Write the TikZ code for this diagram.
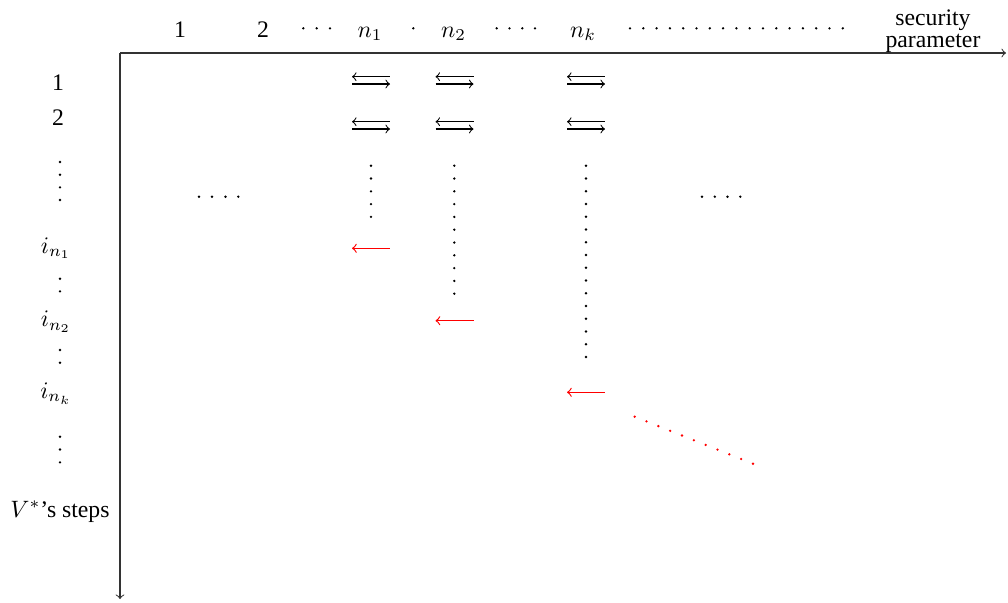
\documentclass[tikz,border=0pt]{standalone}
\usepackage{fontspec}
\setmainfont{Liberation Serif}
\begin{document}
\begin{tikzpicture}[x=0.4216pt,y=-0.4216pt,
  lbl/.style={anchor=base,inner sep=0pt,font=\fontsize{10}{12}\selectfont},
  axis/.style={->,line width=0.45pt,black!80},
  harr/.style={line width=0.45pt},
  redarr/.style={line width=0.5pt,red,<-},
  dotb/.style={fill=black},
  dotr/.style={fill=red}]
\useasboundingbox (0,0) rectangle (1008,602);
% axes
\coordinate (O) at (120,53);
\coordinate (xe) at (1006,53);
\coordinate (ye) at (120,599);
\draw[axis] (O) -- (xe);
\draw[axis] (O) -- (ye);
% top labels
\node[lbl] (t1) at (180,37) {1};
\node[lbl] (t2) at (263,37) {2};
\node[lbl] (tn1) at (370,37) {$n_1$};
\node[lbl] (tn2) at (453.5,37) {$n_2$};
\node[lbl] (tnk) at (583,37) {$n_k$};
\node[lbl] (sp1) at (933,25) {security};
\node[lbl] (sp2) at (933,47) {parameter};
\foreach \x in {303.3,316.7,330,413.3,496.7,509.5,522.3,535}
  \fill[dotb] (\x,28.3) circle[radius=0.55pt];
\foreach \i in {0,...,16}
  \fill[dotb] ({630+\i*13.3},28.3) circle[radius=0.55pt];
% left labels
\node[lbl] (l1) at (58,90) {1};
\node[lbl] (l2) at (58,125) {2};
\node[lbl] (li1) at (56,253) {$i_{n_1}$};
\node[lbl] (li2) at (56,326.5) {$i_{n_2}$};
\node[lbl] (lik) at (56,398) {$i_{n_k}$};
\node[lbl] (lv) at (60,517) {$V^*$'s steps};
\foreach \y in {162,174.7,187.3,200,278.7,291.3,350,362.7,436.7,449.5,462.3}
  \fill[dotb] (60,\y) circle[radius=0.55pt];
% double arrows
\foreach \xa/\xb in {352/390,435.5/473.5,567/605}{
  \draw[harr,<-] (\xa,76.7) -- (\xb,76.7);
  \draw[harr,->] (\xa,84) -- (\xb,84);
  \draw[harr,<-] (\xa,121.7) -- (\xb,121.7);
  \draw[harr,->] (\xa,129) -- (\xb,129);
}
% vertical dotted columns
\foreach \i in {0,...,4} \fill[dotb] (371,{165.7+\i*12.8}) circle[radius=0.55pt];
\foreach \i in {0,...,10} \fill[dotb] (454.3,{165.7+\i*12.8}) circle[radius=0.55pt];
\foreach \i in {0,...,15} \fill[dotb] (586,{165.7+\i*12.75}) circle[radius=0.55pt];
% horizontal dots in middle
\foreach \x in {199,212,225.5,238.3,702,714.8,727.5,740.3}
  \fill[dotb] (\x,196.7) circle[radius=0.55pt];
% red arrows
\draw[redarr] (352,248.3) -- (390,248.3);
\draw[redarr] (435.5,320.7) -- (473.5,320.7);
\draw[redarr] (567,392.3) -- (605,392.3);
% red diagonal dots
\foreach \i in {0,...,10}
  \fill[dotr] ({634.7+\i*11.83},{416.7+\i*4.7}) circle[radius=0.55pt];
\end{tikzpicture}
\end{document}
